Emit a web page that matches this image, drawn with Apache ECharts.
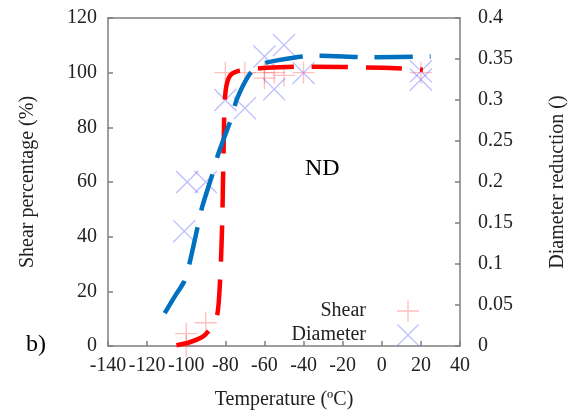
<!DOCTYPE html>
<html>
<head>
<meta charset="utf-8">
<script src="https://cdn.jsdelivr.net/npm/echarts@6/dist/echarts.min.js"></script>
<style>html,body{margin:0;padding:0;background:#fff}#c{width:576px;height:415px}</style>
</head>
<body>
<div id="c"></div>
<script>
// Temperature ticks
const xTicks = [-140, -120, -100, -80, -60, -40, -20, 0, 20, 40];
// Measured shear points
const shearT = [-100, -100, -90, -80, -70, -60, -60, -55, -50, -40, 20];
const shearV = [0, 4.5, 8.5, 100, 100, 100, 98, 100, 99, 100, 100];
// Measured diameter reduction points
const diamT = [-101, -99.5, -90, -80, -70, -60, -55, -50, -40, 20, 20];
const diamV = [0.14, 0.2, 0.2, 0.30, 0.29, 0.353, 0.313, 0.367, 0.333, 0.335, 0.325];
// Fitted shear curve
const shearFitT = [-105, -99, -94, -90.5, -86, -84, -83, -82.3, -81.6, -81.2, -80.8, -80.4, -79.5, -77.5, -74, -68, -59, -39, 0, 21];
const shearFitV = [0.3, 1.2, 2.5, 4, 8, 12, 20, 30, 45, 60, 75, 88, 95, 99, 100.5, 101.1, 101.8, 102.2, 101.8, 101.1];
// Fitted diameter curve
const diamFitT = [-111, -106, -101, -98.4, -94, -91.8, -86, -83.5, -76.6, -74.1, -68, -63, -54.3, -34, -5, 25];
const diamFitV = [0.040, 0.06, 0.079, 0.10, 0.147, 0.17, 0.214, 0.235, 0.28, 0.301, 0.33, 0.342, 0.348, 0.354, 0.352, 0.353];

const zip = (a, b) => a.map((v, i) => [v, b[i]]);
const plusPath = 'path://M-0.6,-10L0.6,-10L0.6,-0.6L10,-0.6L10,0.6L0.6,0.6L0.6,10L-0.6,10L-0.6,0.6L-10,0.6L-10,-0.6L-0.6,-0.6Z';
const crossPath = 'path://M-10,-9.2L-9.2,-10L0,-0.8L9.2,-10L10,-9.2L0.8,0L10,9.2L9.2,10L0,0.8L-9.2,10L-10,9.2L-0.8,0Z';
const font = 'Liberation Serif';
const fs = 20;
const txt = '#222';
const axisLineStyle = {color: '#7f7f7f', width: 1.5};

const chart = echarts.init(document.getElementById('c'));
chart.setOption({
  animation: false,
  textStyle: {fontFamily: font},
  grid: {left: 108, right: 113, top: 18, bottom: 67},
  legend: {
    data: [{name: 'Shear'}, {name: 'Diameter'}],
    orient: 'vertical',
    right: 152, top: 295,
    align: 'right',
    itemWidth: 22, itemHeight: 22,
    itemGap: 2,
    textStyle: {fontFamily: font, fontSize: fs, color: txt, padding: [0, 26, 0, 0]}
  },
  xAxis: [{
    type: 'value', min: -140, max: 40, interval: 20,
    name: 'Temperature (ºC)', nameLocation: 'middle', nameGap: 44,
    nameTextStyle: {fontFamily: font, fontSize: fs, color: txt},
    axisLine: {show: true, onZero: false, lineStyle: axisLineStyle},
    axisTick: {inside: true, length: 5, lineStyle: axisLineStyle},
    axisLabel: {margin: 10, fontFamily: font, fontSize: fs, color: txt,
      formatter: v => xTicks.includes(v) ? String(v) : ''},
    splitLine: {show: false}
  }, {
    type: 'value', position: 'top', min: -140, max: 40,
    axisLine: {show: true, onZero: false, lineStyle: axisLineStyle},
    axisTick: {show: false}, axisLabel: {show: false}, splitLine: {show: false}
  }],
  yAxis: [{
    type: 'value', min: 0, max: 120, interval: 20, position: 'left',
    name: 'Shear percentage (%)', nameLocation: 'middle', nameGap: 70, nameRotate: 90,
    nameTextStyle: {fontFamily: font, fontSize: fs, color: txt},
    axisLine: {show: true, onZero: false, lineStyle: axisLineStyle},
    axisTick: {inside: true, length: 5, lineStyle: axisLineStyle},
    axisLabel: {margin: 11, fontFamily: font, fontSize: fs, color: txt},
    splitLine: {show: false}
  }, {
    type: 'value', min: 0, max: 0.4, interval: 0.05, position: 'right',
    name: 'Diameter reduction ()', nameLocation: 'middle', nameGap: 88, nameRotate: 90,
    nameTextStyle: {fontFamily: font, fontSize: fs, color: txt},
    axisLine: {show: true, onZero: false, lineStyle: axisLineStyle},
    axisTick: {inside: true, length: 5, lineStyle: axisLineStyle},
    axisLabel: {margin: 18, fontFamily: font, fontSize: fs, color: txt},
    splitLine: {show: false}
  }],
  graphic: [
    {type: 'text', left: 305, top: 157, style: {text: 'ND', font: '24px "Liberation Serif"', fill: '#000'}},
    {type: 'text', left: 26, top: 333, style: {text: 'b)', font: '24px "Liberation Serif"', fill: '#000'}}
  ],
  series: [
    {
      name: 'ShearFit', type: 'line', yAxisIndex: 0, data: zip(shearFitT, shearFitV),
      showSymbol: false, smooth: 0.3, silent: true,
      lineStyle: {color: '#ff0000', width: 4.5, type: [36, 18]}
    },
    {
      name: 'DiamFit', type: 'line', yAxisIndex: 1, data: zip(diamFitT, diamFitV),
      showSymbol: false, smooth: 0.3, silent: true,
      lineStyle: {color: '#0070c0', width: 4.5, type: [38, 17]}
    },
    {
      name: 'Shear', type: 'scatter', yAxisIndex: 0, data: zip(shearT, shearV),
      symbol: plusPath, symbolSize: 22, z: 1,
      itemStyle: {color: 'rgba(255,80,80,0.45)'}
    },
    {
      name: 'Diameter', type: 'scatter', yAxisIndex: 1, data: zip(diamT, diamV),
      symbol: crossPath, symbolSize: 23, z: 1,
      itemStyle: {color: 'rgba(90,90,255,0.5)'}
    }
  ]
});
</script>
</body>
</html>
